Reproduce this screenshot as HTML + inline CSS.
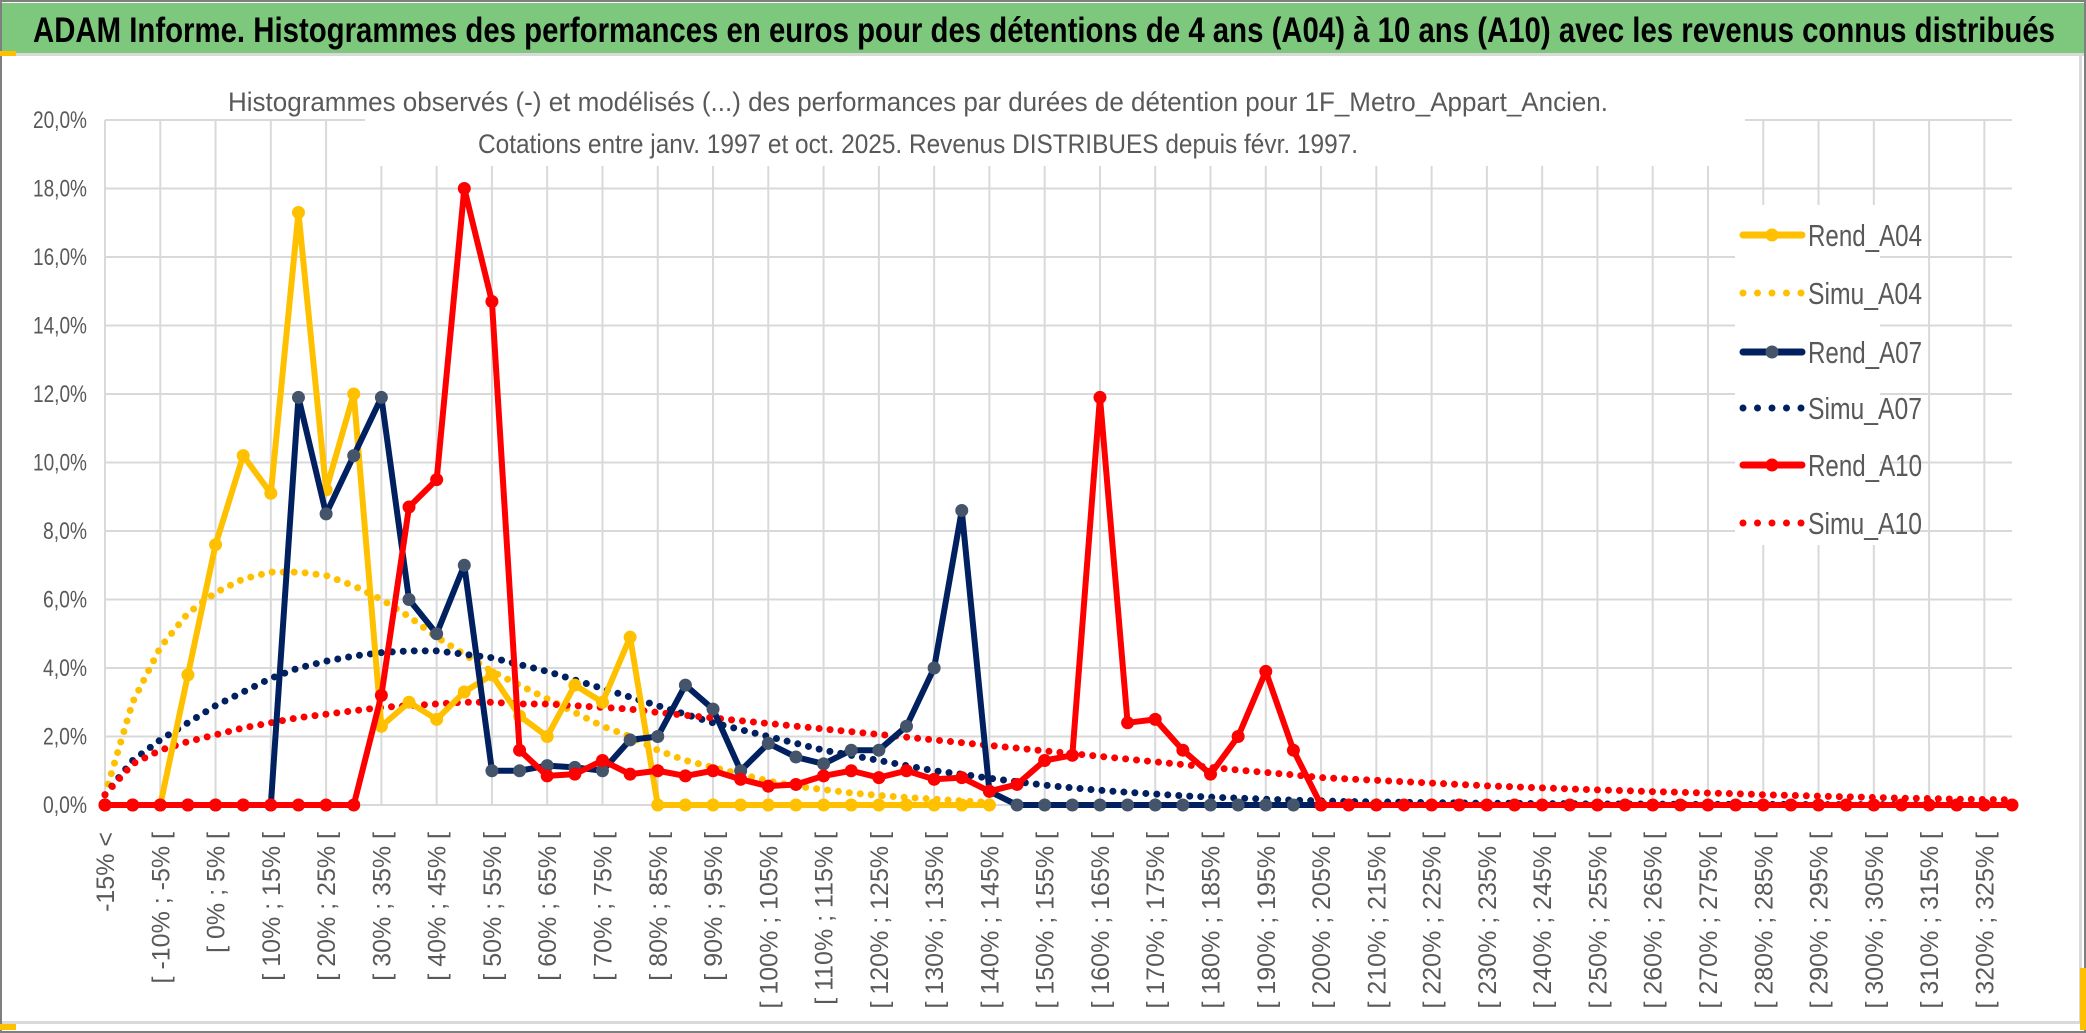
<!DOCTYPE html>
<html><head><meta charset="utf-8"><style>
html,body{margin:0;padding:0;background:#fff;}
svg{display:block;}
text{font-family:"Liberation Sans Narrow","Liberation Sans",sans-serif;}
</style></head><body>
<svg id="chart" width="2086" height="1033" viewBox="0 0 2086 1033" xmlns="http://www.w3.org/2000/svg">
<rect x="0" y="0" width="2086" height="1033" fill="#fff"/>
<rect x="1" y="1" width="2084" height="1031" fill="none" stroke="#7f7f7f" stroke-width="2"/>
<rect x="2" y="3" width="2082" height="50" fill="#7ec87e"/>
<rect x="2" y="53" width="2082" height="3" fill="#d9d9d9"/>
<text x="33" y="42" font-size="35" font-weight="bold" fill="#000" textLength="2022" lengthAdjust="spacingAndGlyphs">ADAM Informe. Histogrammes des performances en euros pour des détentions de 4 ans (A04) à 10 ans (A10) avec les revenus connus distribués</text>
<rect x="2" y="1021" width="2082" height="3" fill="#d9d9d9"/>
<rect x="2079" y="56" width="3" height="966" fill="#d9d9d9"/>
<rect x="0" y="51" width="16" height="5" fill="#ffc000"/>
<rect x="0" y="1024" width="16" height="6" fill="#ffc000"/>
<rect x="2080" y="968" width="6" height="62" fill="#ffc000"/>
<g id="grid"></g>
<g id="ylabels"></g>
<g id="xlabels"></g>
<rect x="365" y="76" width="1380" height="90" fill="#fff"/>
<text x="918" y="111" font-size="27" fill="#595959" text-anchor="middle" textLength="1380" lengthAdjust="spacingAndGlyphs">Histogrammes observés (-) et modélisés (...) des performances par durées de détention pour 1F_Metro_Appart_Ancien.</text>
<text x="918" y="153" font-size="27" fill="#595959" text-anchor="middle" textLength="880" lengthAdjust="spacingAndGlyphs">Cotations entre janv. 1997 et oct. 2025. Revenus DISTRIBUES depuis févr. 1997.</text>
<rect x="1735" y="205" width="145" height="340" fill="#fff"/>
<g id="series"></g>
<g id="legend"></g>
</svg>
<script>
const yTicks = [0,2,4,6,8,10,12,14,16,18,20];
const yTickLabels = ["0,0%","2,0%","4,0%","6,0%","8,0%","10,0%","12,0%","14,0%","16,0%","18,0%","20,0%"];
const categoryCount = 70;
const categories = ["-15% <"];
for (let k = -15; k <= 325; k += 5) categories.push("[ " + k + "% ; " + (k + 5) + "% [");

const rendA04 = [0,0,0,3.8,7.6,10.2,9.1,17.3,9.2,12.0,2.3,3.0,2.5,3.3,3.8,2.6,2.0,3.5,3.0,4.9,0,0,0,0,0,0,0,0,0,0,0,0,0];
const simuA04 = [0.3,3.0,4.6,5.6,6.2,6.6,6.8,6.8,6.7,6.4,6.0,5.5,4.9,4.4,3.9,3.5,3.1,2.7,2.3,2.0,1.6,1.3,1.1,0.9,0.7,0.55,0.45,0.35,0.28,0.22,0.17,0.12,0.08];
const rendA07 = [0,0,0,0,0,0,0,11.9,8.5,10.2,11.9,6.0,5.0,7.0,1.0,1.0,1.15,1.1,1.0,1.9,2.0,3.5,2.8,1.0,1.8,1.4,1.2,1.6,1.6,2.3,4.0,8.6,0.4,0,0,0,0,0,0,0,0,0,0,0,0];
const simuA07 = [0.3,1.3,1.9,2.4,2.9,3.3,3.7,4.0,4.2,4.35,4.45,4.5,4.5,4.4,4.3,4.1,3.9,3.65,3.4,3.15,2.9,2.65,2.4,2.2,2.0,1.8,1.6,1.45,1.3,1.15,1.0,0.9,0.78,0.68,0.58,0.5,0.43,0.37,0.32,0.27,0.23,0.2,0.17,0.14,0.12,0.1,0.09,0.08,0.07,0.06,0.05,0.05,0.04,0.04,0.03,0.03,0.03,0.02,0.02,0.02,0.02,0.02,0.01,0.01,0.01,0.01,0.01,0.01,0.01,0.01];
const rendA10 = [0,0,0,0,0,0,0,0,0,0,3.2,8.7,9.5,18.0,14.7,1.6,0.85,0.9,1.3,0.9,1.0,0.85,1.0,0.75,0.55,0.6,0.85,1.0,0.8,1.0,0.75,0.8,0.4,0.6,1.3,1.45,11.9,2.4,2.5,1.6,0.9,2.0,3.9,1.6,0,0,0,0,0,0,0,0,0,0,0,0,0,0,0,0,0,0,0,0,0,0,0,0,0,0];
const simuA10 = [0.3,1.2,1.6,1.85,2.05,2.25,2.4,2.55,2.65,2.75,2.85,2.9,2.95,3.0,3.0,2.95,2.95,2.9,2.85,2.8,2.7,2.62,2.54,2.46,2.38,2.3,2.22,2.14,2.06,1.98,1.9,1.82,1.74,1.66,1.58,1.5,1.42,1.34,1.26,1.18,1.1,1.02,0.95,0.88,0.8,0.76,0.72,0.68,0.64,0.6,0.56,0.53,0.5,0.47,0.44,0.42,0.39,0.37,0.35,0.33,0.3,0.28,0.26,0.24,0.22,0.2,0.19,0.17,0.16,0.15];

const NS = "http://www.w3.org/2000/svg";
const X0 = 105, X1 = 2012, Y0 = 805, Y20 = 120;
function xScale(i){ return X0 + i * (X1 - X0) / (categoryCount - 1); }
function yScale(v){ return Y0 - v / 20 * (Y0 - Y20); }
function mk(tag, parent){ const e = document.createElementNS(NS, tag); parent.appendChild(e); return e; }

const grid = document.getElementById('grid');
yTicks.forEach((t, i) => {
  const l = mk('line', grid);
  
  
  l.setAttribute('x1', X0); l.setAttribute('x2', X1);
  l.setAttribute('y1', yScale(t)); l.setAttribute('y2', yScale(t));
  l.setAttribute('stroke', '#d9d9d9'); l.setAttribute('stroke-width', '2');
  const tx = mk('text', document.getElementById('ylabels'));
  
  
  tx.setAttribute('x', 87); tx.setAttribute('y', yScale(t) + 8);
  tx.setAttribute('text-anchor', 'end'); tx.setAttribute('font-size', '24'); tx.setAttribute('fill', '#595959');
  tx.setAttribute('textLength', yTickLabels[i].length > 4 ? '54' : '44');
  tx.setAttribute('lengthAdjust', 'spacingAndGlyphs');
  tx.textContent = yTickLabels[i];
});
for (let i = 0; i < categoryCount; i += 2) {
  const l = mk('line', grid);
  
  
  l.setAttribute('x1', xScale(i)); l.setAttribute('x2', xScale(i));
  l.setAttribute('y1', Y20); l.setAttribute('y2', Y0);
  l.setAttribute('stroke', '#d9d9d9'); l.setAttribute('stroke-width', '2');
  const tx = mk('text', document.getElementById('xlabels'));
  
  
  tx.setAttribute('transform', 'translate(' + (xScale(i) + 9) + ',832) rotate(-90)');
  tx.setAttribute('text-anchor', 'end'); tx.setAttribute('font-size', '25'); tx.setAttribute('fill', '#595959');
  tx.setAttribute('style', 'font-family:"Liberation Sans",sans-serif');
  tx.textContent = categories[i];
}

const series = document.getElementById('series');
function drawLine(vals, color, dotted, marker, name){
  const p = mk('polyline', series);
  
  
  p.setAttribute('points', vals.map((v, i) => xScale(i) + ',' + yScale(v)).join(' '));
  p.setAttribute('fill', 'none'); p.setAttribute('stroke', color);
  p.setAttribute('stroke-width', dotted ? '7' : '6');
  p.setAttribute('stroke-linejoin', 'round');
  if (dotted) { p.setAttribute('stroke-dasharray', '0 11'); p.setAttribute('stroke-linecap', 'round'); }
  if (marker) vals.forEach((v, i) => {
    const c = mk('circle', series);
    
    
    c.setAttribute('cx', xScale(i)); c.setAttribute('cy', yScale(v)); c.setAttribute('r', '6.5');
    c.setAttribute('fill', marker);
  });
}
drawLine(simuA04, '#ffc000', true, null, 'simu-a04-line');
drawLine(simuA07, '#002060', true, null, 'simu-a07-line');
drawLine(simuA10, '#ff0000', true, null, 'simu-a10-line');
drawLine(rendA04, '#ffc000', false, '#ffc000', 'rend-a04-line');
drawLine(rendA07, '#002060', false, '#44546a', 'rend-a07-line');
drawLine(rendA10, '#ff0000', false, '#ff0000', 'rend-a10-line');

const legendNames = ["Rend_A04","Simu_A04","Rend_A07","Simu_A07","Rend_A10","Simu_A10"];
const legendColors = ['#ffc000','#ffc000','#002060','#002060','#ff0000','#ff0000'];
const legendMarkers = ['#ffc000',null,'#44546a',null,'#ff0000',null];
const legendY = [235,293,352,408,465,523];
const lg = document.getElementById('legend');
legendNames.forEach((n, i) => {
  const g = mk('g', lg);
  
  
  const l = mk('line', g);
  l.setAttribute('x1', 1743); l.setAttribute('x2', 1802);
  l.setAttribute('y1', legendY[i]); l.setAttribute('y2', legendY[i]);
  l.setAttribute('stroke', legendColors[i]);
  l.setAttribute('stroke-linecap', 'round');
  l.setAttribute('stroke-width', '7');
  if (legendMarkers[i]) {
    const c = mk('circle', g); c.setAttribute('cx', 1772); c.setAttribute('cy', legendY[i]); c.setAttribute('r', 6.5); c.setAttribute('fill', legendMarkers[i]);
  } else { l.setAttribute('stroke-dasharray', '0 14.5'); }
  const t = mk('text', g);
  t.setAttribute('x', 1808); t.setAttribute('y', legendY[i] + 11);
  t.setAttribute('font-size', '31'); t.setAttribute('fill', '#595959');
  t.setAttribute('textLength', '114'); t.setAttribute('lengthAdjust', 'spacingAndGlyphs');
  t.textContent = n;
});
</script>
</body></html>
